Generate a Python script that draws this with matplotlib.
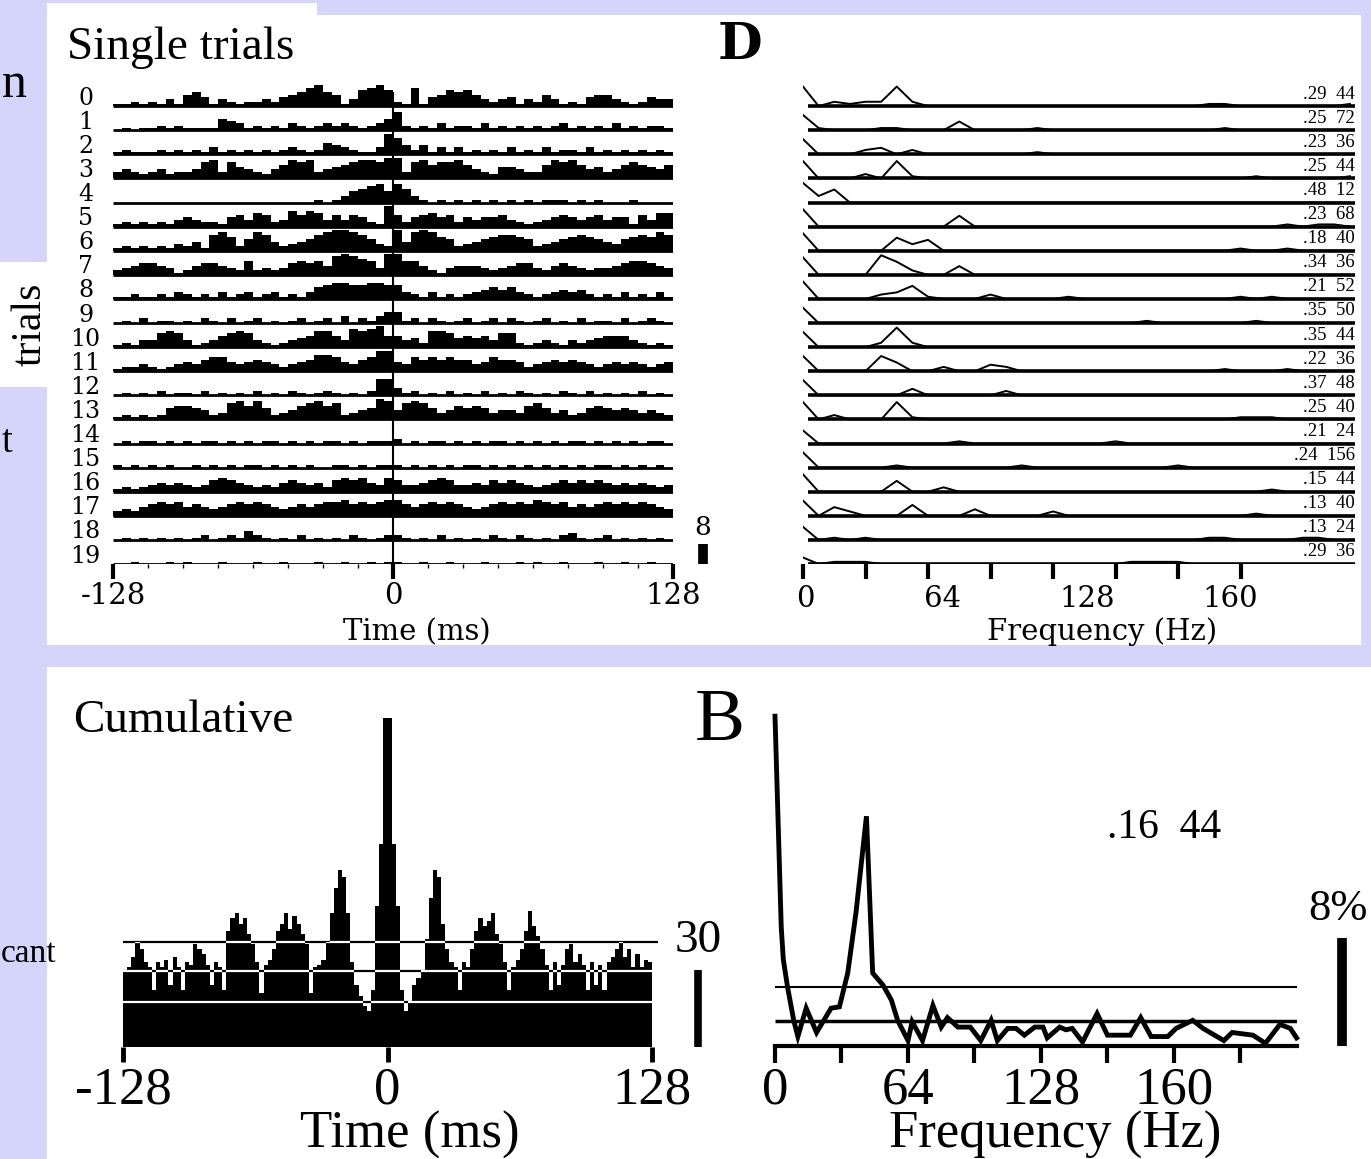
import numpy as np
import matplotlib.pyplot as plt
from matplotlib.patches import Rectangle

W, H = 1371, 1159
LAV = '#d5d5fb'
TIMES = 'Liberation Serif'
WIDE = 'DejaVu Serif'

# single trials: spikes per 4 ms bin, -128..128 ms (one string per trial)
trial_rows = [
    "11212131 56413212 23245689 65137897 21814576 75323413 25312145 53212433",
    "01011212 11115431 21213212 32321235 82121312 21312121 21231212 13121221",
    "12111212 12131212 12123212 54321139 74241313 12121312 13122131 21212121",
    "34323423 34783754 32468783 45678879 93786778 64325543 36878645 34676546",
    "00000000 00000000 00000001 01356785 86310101 01010101 01110101 00010000",
    "12121213 43221453 65237576 35354219 52456452 43445321 23454345 34415366",
    "12121213 24178625 87423457 89987532 94898652 34567765 23456765 43567687",
    "23455431 24554326 23235656 48987639 96642134 44323455 32454323 34566543",
    "11211213 21213123 12312135 67766776 63213121 23454532 12343421 21312131",
    "01020110 10210201 20101201 20302135 51202101 20120210 12010201 10201210",
    "12133676 31235676 32123457 75387895 53427764 54536621 23213234 55532121",
    "12232123 43566434 54323457 76435699 43656565 53465542 34545432 34343234",
    "01010201 10201010 20102101 21010277 31201020 10201021 01021020 10102010",
    "12121256 65423786 85234678 67234598 47875346 56534436 75342356 54543432",
    "01011010 10110101 01101010 11010111 20101101 01011010 10101101 01010110",
    "10101010 01010101 10101010 01101011 10101010 11010101 01010101 10101010",
    "12123434 32356543 23245434 25656436 53345653 34354543 23454545 43434323",
    "23245656 45434565 65434545 66756567 75456565 43456565 76564545 65656543",
    "01010101 01201214 21010201 01021012 21010201 01021021 01023101 20101010",
    "00100010 10001000 10010001 00100101 10010010 00100010 10010001 00100100",
]
trial_edges = np.arange(-128, 129, 4)

# single-trial spectra, 8 Hz steps from 0 Hz (one string per trial)
spec_rows = [
    "902122 920000 000000 000000 001100 000001",
    "710001 100040 000100 000000 000100 000000",
    "700023 020000 000100 000000 000000 000000",
    "800020 810000 000000 000000 000001 000001",
    "936000 000000 000000 000000 000000 000000",
    "800000 000050 000000 000000 000000 010110",
    "800000 635000 000000 000000 000010 010000",
    "800009 620040 000000 000000 000000 000000",
    "800002 361000 200001 000000 000010 100000",
    "700000 000000 000000 000010 000001 000000",
    "700002 920000 000000 000000 000000 000000",
    "700007 400200 320000 000000 000100 010000",
    "700000 030000 020000 000000 000000 000000",
    "802000 810000 000000 000000 000011 100000",
    "600000 000010 000000 001000 000000 000000",
    "700000 100000 001000 000000 100000 000000",
    "800000 500200 000000 000000 000000 100000",
    "704200 050003 000020 000000 000001 000000",
    "601010 000000 000000 000000 001100 001100",
    "301110 000000 000000 000111 100000 000000",
]
spec_freq = np.arange(0, 288, 8)
spec_labels = [".29  44", ".25  72", ".23  36", ".25  44", ".48  12", ".23  68",
               ".18  40", ".34  36", ".21  52", ".35  50", ".35  44", ".22  36",
               ".37  48", ".25  40", ".21  24", ".24  156", ".15  44", ".13  40",
               ".13  24", ".29  36"]

# cumulative histogram, 2 ms bins
cum_counts = [30, 31, 35, 41, 38, 33, 31, 22, 33, 31, 34, 24, 35, 31, 22, 33,
              32, 40, 38, 36, 32, 24, 33, 31, 22, 45, 50, 52, 48, 50, 44, 40,
              33, 21, 32, 34, 38, 45, 48, 52, 46, 51, 48, 44, 40, 21, 31, 32,
              34, 41, 52, 62, 69, 66, 52, 33, 24, 20, 16, 14, 22, 55, 79, 128,
              128, 79, 55, 22, 14, 18, 24, 27, 30, 42, 58, 69, 66, 48, 38, 33,
              31, 22, 33, 31, 38, 45, 50, 47, 49, 52, 44, 40, 33, 22, 31, 34,
              38, 45, 53, 47, 43, 38, 32, 22, 33, 24, 32, 38, 40, 33, 36, 32,
              22, 33, 24, 32, 22, 33, 35, 38, 41, 35, 38, 31, 36, 31, 34, 33]
cum_edges = np.arange(-128, 129, 2)
cum_levels = [41, 29.6, 17.5]

# cumulative spectrum (%)
cs_freq = [0, 3, 4, 6, 9, 11, 15, 20, 27, 31, 35, 39, 44, 47, 52, 56, 59, 64,
           66, 71, 76, 80, 83, 88, 94, 99, 104, 107, 112, 116, 120, 125, 129,
           131, 137, 140, 143, 148, 155, 160, 171, 176, 181, 189, 193, 201,
           206, 216, 220, 230, 236, 243, 248, 251]
cs_pct = [24.4, 8.8, 6.4, 4.4, 1.9, 0.7, 2.8, 1.0, 2.8, 2.9, 5.4, 9.9, 17.0,
          5.4, 4.5, 3.4, 1.9, 0.4, 1.8, 0.4, 3.0, 1.4, 2.1, 1.4, 1.4, 0.4, 1.9,
          0.4, 1.3, 1.3, 0.8, 1.4, 1.4, 0.6, 1.4, 1.2, 1.3, 0.3, 2.4, 0.8, 0.8,
          2.1, 0.7, 0.7, 1.3, 1.9, 1.3, 0.4, 1.0, 0.8, 0.2, 1.6, 1.3, 0.6]
cs_levels = [4.4, 1.85]

fig = plt.figure(figsize=(13.71, 11.59), dpi=100, facecolor=LAV)


def px_axes(x0, y0, x1, y1):
    ax = fig.add_axes([x0 / W, 1 - y1 / H, (x1 - x0) / W, (y1 - y0) / H], zorder=1)
    ax.set_facecolor('none')
    for s in ax.spines.values():
        s.set_visible(False)
    ax.set_yticks([])
    return ax


# background panels and loose labels (pixel coordinates)
bg = fig.add_axes([0, 0, 1, 1], zorder=0)
bg.set_xlim(0, W)
bg.set_ylim(H, 0)
bg.axis('off')
for x0, y0, x1, y1 in [(47, 3, 317, 16), (47, 15, 1361, 645), (0, 262, 47, 387), (47, 667, 1371, 1159)]:
    bg.add_patch(Rectangle((x0, y0), x1 - x0, y1 - y0, fc='white', ec='none'))
bg.text(67, 59, "Single trials", fontsize=34, family=TIMES, va='baseline')
bg.text(73, 732, "Cumulative", fontsize=34, family=TIMES, va='baseline')
bg.text(718, 59, "D", fontsize=37, family=WIDE, weight='bold', va='baseline')
bg.text(695, 740, "B", fontsize=54, family=TIMES, va='baseline')
bg.text(2, 97, "n", fontsize=36, family=TIMES, va='baseline', ha='left')
bg.text(30, 324, "trials", fontsize=30, family=TIMES, rotation=90, ha='center', va='center')
bg.text(2, 452, "t", fontsize=28, family=TIMES, va='baseline', ha='left')
bg.text(56, 962, "cant", fontsize=24, family=TIMES, va='baseline', ha='right')

# ---- single trial histograms
ax_r = px_axes(113, 82, 673, 564)
ax_r.set_xlim(-128, 128)
ax_r.set_ylim(-19, 1)
for i, row in enumerate(trial_rows):
    h = np.array([int(c) for c in row.replace(' ', '')]) * 0.095
    ax_r.stairs(-i + h, trial_edges, baseline=-i, fill=True, color='black', lw=0)
    ax_r.hlines(-i, -128, 128, color='black', lw=2)
    ax_r.text(-140.5, -i + 0.33, str(i), ha='center', va='center', fontsize=17,
              family=WIDE, clip_on=False)
ax_r.vlines(0, -19, 0.6, color='black', lw=1.5)
ax_r.set_xticks([-128, 0, 128], ['-128', '0', '128'])
ax_r.set_xticks(np.arange(-112, 128, 16), minor=True)
ax_r.tick_params(axis='x', which='major', length=11, width=3, pad=2,
                 labelsize=21, labelfontfamily=WIDE)
ax_r.tick_params(axis='x', which='minor', length=3, width=1)
ax_r.text(11, -22.15, "Time (ms)", ha='center', va='baseline', fontsize=21, family=WIDE)
ax_r.vlines(141.7, -19, -18.17, color='black', lw=7, clip_on=False)
ax_r.text(141.7, -17.8, "8", ha='center', va='baseline', fontsize=19, family=WIDE)

# ---- single trial spectra
ax_s = px_axes(803, 82, 1355, 564)
ax_s.set_xlim(0, 282.6)
ax_s.set_ylim(-19, 1)
for i, row in enumerate(spec_rows):
    h = np.array([int(c) for c in row.replace(' ', '')]) * 0.09
    ax_s.plot(spec_freq, -i + h, color='black', lw=1.4)
    ax_s.hlines(-i, 2.5, 282.6, color='black', lw=2.6)
    ax_s.text(282.6, -i + 0.5, spec_labels[i], ha='right', va='center',
              fontsize=13.5, family=TIMES)
ax_s.set_xticks(np.arange(0, 225, 32), [''] * 8)
ax_s.tick_params(axis='x', length=11, width=3)
for f, s in zip([1, 71.7, 145.4, 218.6], ['0', '64', '128', '160']):
    ax_s.text(f, -20.78, s, ha='center', va='baseline', fontsize=21, family=WIDE)
ax_s.text(153, -22.15, "Frequency (Hz)", ha='center', va='baseline', fontsize=21, family=WIDE)

# ---- cumulative histogram
ax_c = px_axes(123, 700, 652, 1047)
ax_c.set_xlim(-128, 128)
ax_c.set_ylim(0, 135)
for lev in cum_levels:
    ax_c.hlines(lev, -128, 131 if lev == cum_levels[0] else 128, color='black',
                lw=1.6, zorder=1, clip_on=False)
bars = ax_c.stairs(cum_counts, cum_edges, fill=True, color='black', lw=0, zorder=2)
for lev in cum_levels:
    wl = ax_c.hlines(lev, -128, 128, color='white', lw=1.6, zorder=3)
    wl.set_clip_path(bars)
ax_c.set_xticks([-128, 0, 128], ['-128', '0', '128'])
ax_c.tick_params(axis='x', length=11, width=3.5, pad=3, labelsize=38,
                 labelfontfamily=TIMES)
ax_c.text(11, -39.3, "Time (ms)", ha='center', va='baseline', fontsize=38, family=TIMES)
ax_c.vlines(150.3, 0, 30, color='black', lw=5.5, clip_on=False)
ax_c.text(150.3, 37, "30", ha='center', va='baseline', fontsize=34, family=TIMES)

# ---- cumulative spectrum
ax_e = px_axes(775, 700, 1297, 1046)
ax_e.set_xlim(0, 251.2)
ax_e.set_ylim(0, 25.6)
ax_e.spines['bottom'].set_visible(True)
ax_e.spines['bottom'].set_linewidth(3)
ax_e.hlines(cs_levels[0], 0, 251.2, color='black', lw=1.5)
ax_e.hlines(cs_levels[1], 0, 251.2, color='black', lw=2.5)
ax_e.plot(cs_freq, cs_pct, color='black', lw=3.5, solid_joinstyle='miter', clip_on=False)
ax_e.set_xticks(np.arange(0, 225, 32), ['0', '', '64', '', '128', '', '160', ''])
ax_e.tick_params(axis='x', length=12, width=3, pad=3, labelsize=38,
                 labelfontfamily=TIMES)
ax_e.text(134.7, -7.56, "Frequency (Hz)", ha='center', va='baseline', fontsize=38, family=TIMES)
ax_e.vlines(272.9, 0, 8, color='black', lw=7, clip_on=False)
ax_e.text(271, 9.3, "8%", ha='center', va='baseline', fontsize=32, family=TIMES, clip_on=False)
ax_e.text(187.2, 15.4, ".16  44", ha='center', va='baseline', fontsize=30, family=TIMES)

fig.savefig('out.png', dpi=100, facecolor=LAV)
